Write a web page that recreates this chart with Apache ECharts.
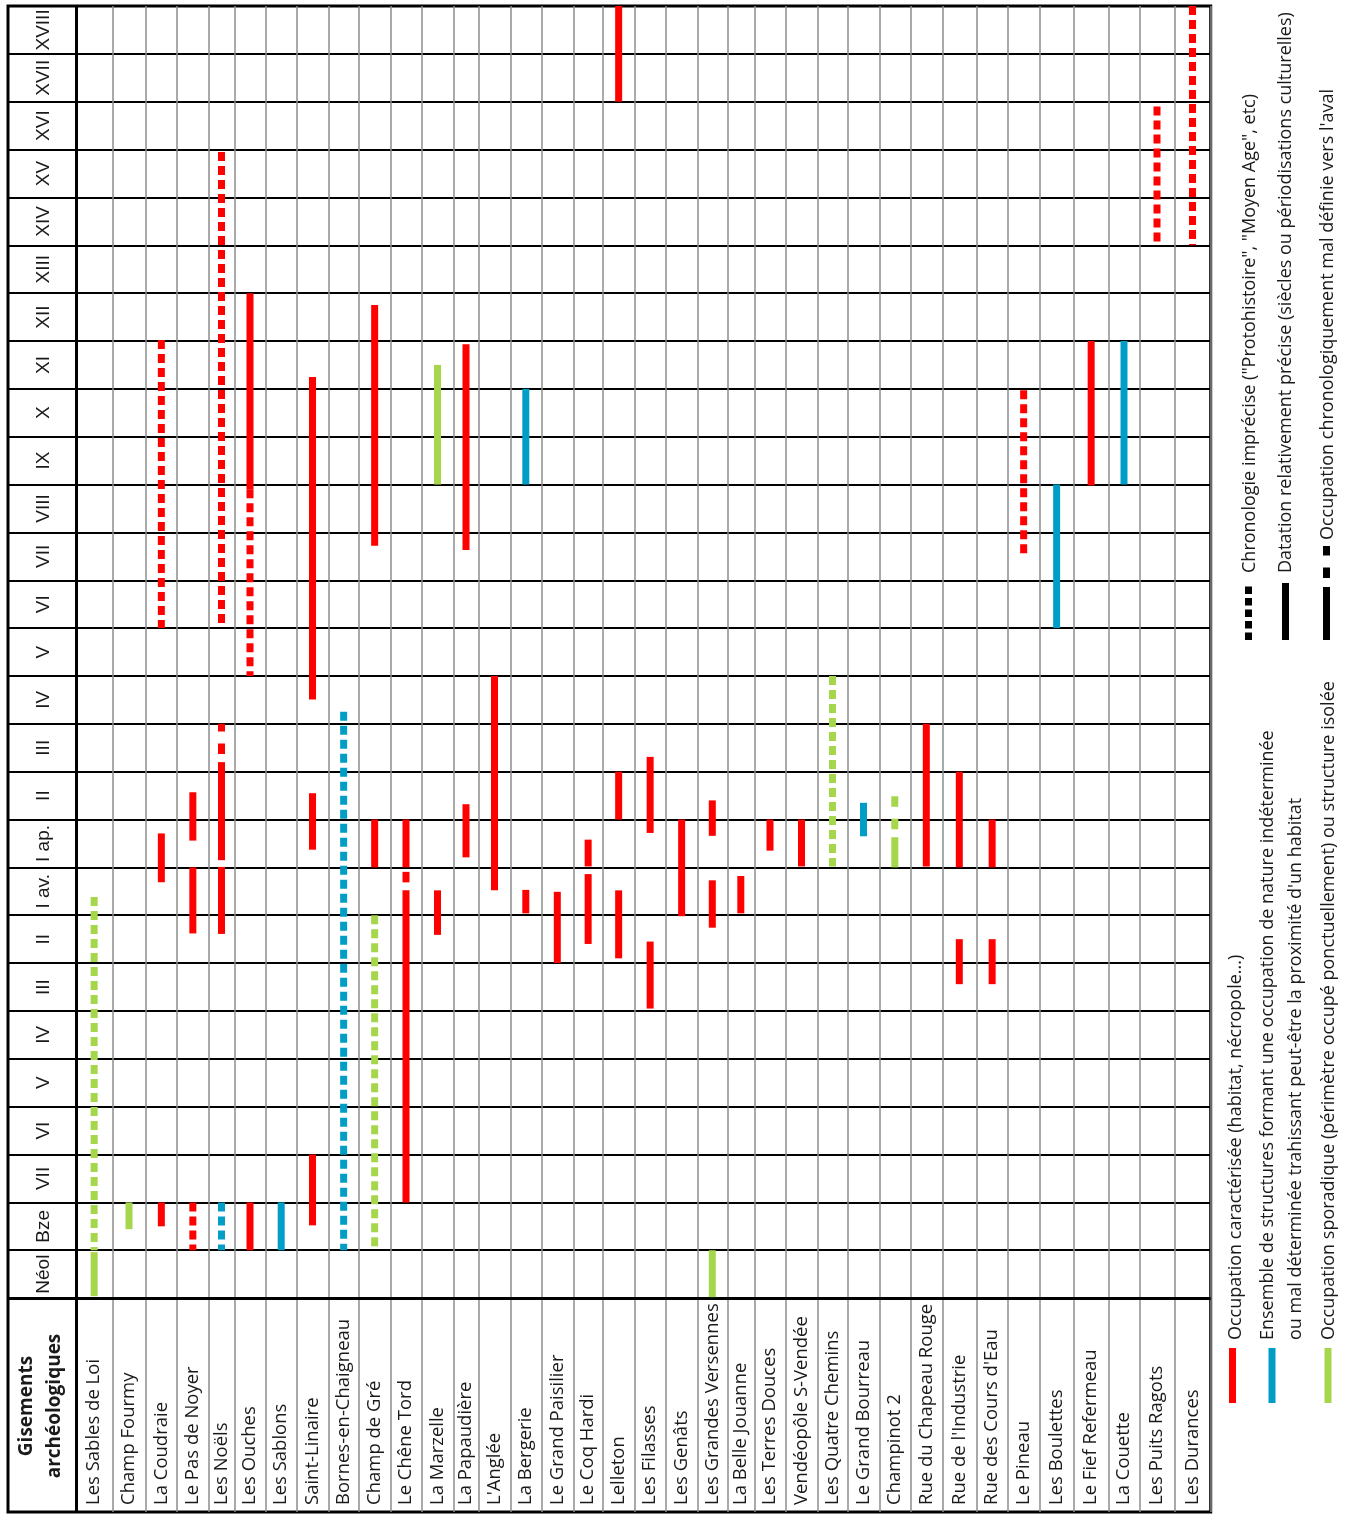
<!DOCTYPE html>
<html>
<head>
<meta charset="utf-8">
<title>Gisements archéologiques – chronologie des occupations</title>
<script src="https://cdn.jsdelivr.net/npm/echarts@6/dist/echarts.min.js"></script>
<style>
  html, body { margin: 0; padding: 0; background: #ffffff; }
  #chart { width: 1345px; height: 1515px; }
</style>
</head>
<body>
<div id="chart"></div>
<script>
// ---------------------------------------------------------------------------
// Data
// ---------------------------------------------------------------------------

// Chronological rows, from the oldest (bottom) to the most recent (top).
const periods = ['Néol', 'Bze', 'VII', 'VI', 'V', 'IV', 'III', 'II', 'I av.',
  'I ap.', 'II', 'III', 'IV', 'V', 'VI', 'VII', 'VIII', 'IX', 'X', 'XI', 'XII',
  'XIII', 'XIV', 'XV', 'XVI', 'XVII', 'XVIII'];

// Archaeological sites, one column each.
const sites = ['Les Sables de Loi', 'Champ Fourmy', 'La Coudraie', 'Le Pas de Noyer',
  'Les Noëls', 'Les Ouches', 'Les Sablons', 'Saint-Linaire', 'Bornes-en-Chaigneau',
  'Champ de Gré', 'Le Chêne Tord', 'La Marzelle', 'La Papaudière', "L'Anglée",
  'La Bergerie', 'Le Grand Paisilier', 'Le Coq Hardi', 'Lelleton', 'Les Filasses',
  'Les Genâts', 'Les Grandes Versennes', 'La Belle Jouanne', 'Les Terres Douces',
  'Vendéopôle S-Vendée', 'Les Quatre Chemins', 'Le Grand Bourreau', 'Champinot 2',
  'Rue du Chapeau Rouge', "Rue de l'Industrie", "Rue des Cours d'Eau", 'Le Pineau',
  'Les Boulettes', 'Le Fief Refermeau', 'La Couette', 'Les Puits Ragots', 'Les Durances'];

// Occupation spans: [site, from, to], in period rows (0 = start of the Neolithic row,
// 27 = end of the XVIIIth century row).

// Occupation caractérisée (habitat, nécropole...) – red
const redSolid = [
  ['La Coudraie', 1.5, 2.0], ['La Coudraie', 8.69, 9.71],
  ['Le Pas de Noyer', 7.62, 9.0], ['Le Pas de Noyer', 9.56, 10.57],
  ['Les Noëls', 7.61, 9.01], ['Les Noëls', 9.15, 11.2],
  ['Les Ouches', 1.0, 2.0], ['Les Ouches', 16.9, 21.0],
  ['Saint-Linaire', 1.52, 3.0], ['Saint-Linaire', 9.37, 10.55], ['Saint-Linaire', 12.51, 19.25],
  ['Champ de Gré', 9.0, 10.0], ['Champ de Gré', 15.72, 20.75],
  ['Le Chêne Tord', 2.0, 8.52], ['Le Chêne Tord', 9.0, 10.0],
  ['La Marzelle', 7.59, 8.52],
  ['La Papaudière', 9.21, 10.32], ['La Papaudière', 15.63, 19.93],
  ["L'Anglée", 8.52, 13.0],
  ['La Bergerie', 8.04, 8.53],
  ['Le Grand Paisilier', 7.0, 8.49],
  ['Le Coq Hardi', 7.4, 8.86], ['Le Coq Hardi', 9.02, 9.58],
  ['Lelleton', 7.1, 8.52], ['Lelleton', 10.0, 11.0], ['Lelleton', 25.0, 27.0],
  ['Les Filasses', 6.05, 7.45], ['Les Filasses', 9.72, 11.31],
  ['Les Genâts', 7.98, 10.0],
  ['Les Grandes Versennes', 7.74, 8.73], ['Les Grandes Versennes', 9.66, 10.4],
  ['La Belle Jouanne', 8.04, 8.82],
  ['Les Terres Douces', 9.35, 10.0],
  ['Vendéopôle S-Vendée', 9.02, 10.0],
  ['Rue du Chapeau Rouge', 9.02, 12.0],
  ["Rue de l'Industrie", 6.56, 7.5], ["Rue de l'Industrie", 9.0, 11.0],
  ["Rue des Cours d'Eau", 6.56, 7.5], ["Rue des Cours d'Eau", 9.0, 10.0],
  ['Le Fief Refermeau', 16.98, 20.0]
];
const redDashed = [
  ['La Coudraie', 14.0, 20.02],
  ['Le Pas de Noyer', 1.0, 2.0],
  ['Les Noëls', 14.05, 23.95],
  ['Les Ouches', 13.0, 16.9],
  ['Le Pineau', 15.5, 18.97],
  ['Les Puits Ragots', 22.0, 24.9],
  ['Les Durances', 22.0, 27.0]
];
const redLoose = [
  ['Les Noëls', 11.2, 12.0],
  ['Le Chêne Tord', 8.52, 9.0]
];

// Ensemble de structures (nature indéterminée) – blue
const blueSolid = [
  ['Les Sablons', 1.0, 2.0],
  ['La Bergerie', 17.0, 19.0],
  ['Le Grand Bourreau', 9.65, 10.35],
  ['Les Boulettes', 14.0, 17.0],
  ['La Couette', 17.0, 20.0]
];
const blueDashed = [
  ['Les Noëls', 1.0, 2.0],
  ['Bornes-en-Chaigneau', 1.0, 12.25]
];

// Occupation sporadique – green
const greenSolid = [
  ['Les Sables de Loi', 0.04, 0.96],
  ['Champ Fourmy', 1.44, 2.0],
  ['La Marzelle', 17.0, 19.5],
  ['Les Grandes Versennes', 0.02, 1.0],
  ['Champinot 2', 9.0, 9.63]
];
const greenDashed = [
  ['Les Sables de Loi', 1.0, 8.38],
  ['Champ de Gré', 1.0, 8.0],
  ['Les Quatre Chemins', 9.02, 13.0]
];
const greenLoose = [
  ['Champinot 2', 9.63, 10.53]
];

// ---------------------------------------------------------------------------
// Layout (table geometry, not data)
// ---------------------------------------------------------------------------
const HEADER_W = 68;          // width of the period column
const COLUMN_W = [36.3, 33.4, 31.3, 31.7, 25.6, 31.4, 31.0, 31.6, 30.7, 31.3, 31.4,
  31.6, 25.4, 31.6, 31.0, 32.0, 29.7, 31.3, 31.7, 31.3, 30.0, 27.0, 31.4, 31.6, 30.4,
  31.6, 31.0, 32.0, 34.0, 31.7, 31.3, 34.7, 34.3, 31.4, 34.6, 36.4];
const LABEL_ROWS = 4.47;      // height of the site-name band, in period rows
const BAR_W = 7;

const COLORS = { red: '#ff0000', blue: '#009ec6', green: '#a6d64c' };
const DASH = [9, 5];
const LOOSE_DASH = [10.5, 12];
const LOOSE_GAP_FIRST = 8;

const edges = [HEADER_W];
COLUMN_W.forEach(w => edges.push(edges[edges.length - 1] + w));
const centers = COLUMN_W.map((w, i) => edges[i] + w / 2);
const X_MAX = edges[edges.length - 1];

const rowEdges = periods.map((p, i) => i).concat([periods.length]);
const rowCenters = periods.map((p, i) => i + 0.5);

function nearestSite(v) {
  let best = 0, d = Infinity;
  centers.forEach((c, i) => { const dd = Math.abs(c - v); if (dd < d) { d = dd; best = i; } });
  return sites[best];
}

// One custom series per colour / line style.
function spanSeries(name, rows, color, style) {
  return {
    type: 'custom',
    name: name,
    coordinateSystem: 'cartesian2d',
    z: 5,
    silent: true,
    data: rows.map(r => [centers[sites.indexOf(r[0])], r[1], r[2]]),
    encode: { x: 0, y: [1, 2] },
    renderItem: function (params, api) {
      const x = api.value(0);
      const top = api.coord([x, api.value(2)]);
      const bottom = api.coord([x, api.value(1)]);
      if (style === 'solid') {
        return {
          type: 'rect',
          shape: { x: top[0] - BAR_W / 2, y: top[1], width: BAR_W, height: bottom[1] - top[1] },
          style: { fill: color }
        };
      }
      if (style === 'dashed') {
        return {
          type: 'line',
          shape: { x1: top[0], y1: top[1], x2: bottom[0], y2: bottom[1] },
          style: { stroke: color, lineWidth: BAR_W, lineDash: DASH, lineCap: 'butt', fill: null }
        };
      }
      // loose dashes, drawn upward from the end of the solid part, starting with a gap
      const period = LOOSE_DASH[0] + LOOSE_DASH[1];
      return {
        type: 'line',
        shape: { x1: bottom[0], y1: bottom[1], x2: top[0], y2: top[1] },
        style: {
          stroke: color, lineWidth: BAR_W, lineDash: LOOSE_DASH,
          lineDashOffset: period - LOOSE_GAP_FIRST, lineCap: 'butt', fill: null
        }
      };
    }
  };
}

// ---------------------------------------------------------------------------
// Legend (drawn as rotated text next to the table)
// ---------------------------------------------------------------------------
const LEGEND_FONT = '18px "Open Sans", sans-serif';
const TEXT_COLOR = '#1a1a1a';

function vText(x, y, text, font) {
  return {
    type: 'text', x: x, y: y, rotation: Math.PI / 2, silent: true,
    style: { text: text, font: font || LEGEND_FONT, fill: TEXT_COLOR,
      textAlign: 'left', textVerticalAlign: 'middle' }
  };
}
function vBar(x, y1, y2, color) {
  return { type: 'rect', silent: true,
    shape: { x: x - BAR_W / 2, y: y1, width: BAR_W, height: y2 - y1 }, style: { fill: color } };
}
function vDash(x, yBottom, yTop, color, dash, offset) {
  return { type: 'line', silent: true,
    shape: { x1: x, y1: yBottom, x2: x, y2: yTop },
    style: { stroke: color, lineWidth: BAR_W, lineDash: dash, lineDashOffset: offset || 0, lineCap: 'butt' } };
}

const legendGraphics = [
  // line styles
  vDash(1248.5, 640, 583, '#000', [7.5, 4]),
  vText(1249.5, 573, 'Chronologie imprécise ("Protohistoire", "Moyen Age", etc)'),
  vBar(1285.5, 583, 640, '#000'),
  vText(1285.5, 573, 'Datation relativement précise (siècles ou périodisations culturelles)'),
  vBar(1326.5, 587, 640, '#000'),
  vDash(1326.5, 587, 546, '#000', LOOSE_DASH, LOOSE_DASH[0] + LOOSE_DASH[1] - 9),
  vText(1327.5, 540, "Occupation chronologiquement mal définie vers l'aval"),
  // colours
  vBar(1232.5, 1348, 1403, COLORS.red),
  vText(1236, 1340, 'Occupation caractérisée (habitat, nécropole...)'),
  vBar(1272, 1348, 1403, COLORS.blue),
  vText(1268, 1340, 'Ensemble de structures formant une occupation de nature indéterminée'),
  vText(1296, 1340, "ou mal déterminée trahissant peut-être la proximité d'un habitat"),
  vBar(1328, 1348, 1403, COLORS.green),
  vText(1329, 1340, 'Occupation sporadique (périmètre occupé ponctuellement) ou structure isolée'),
  // corner heading
  {
    type: 'text', x: 41, y: 1406, rotation: Math.PI / 2, silent: true,
    style: { text: 'Gisements\narchéologiques', font: 'bold 19px "Open Sans", sans-serif',
      fill: TEXT_COLOR, textAlign: 'center', textVerticalAlign: 'middle', lineHeight: 28 }
  }
];

// ---------------------------------------------------------------------------
// Chart
// ---------------------------------------------------------------------------
const chart = echarts.init(document.getElementById('chart'), null, { renderer: 'canvas' });

chart.setOption({
  animation: false,
  backgroundColor: '#ffffff',
  grid: {
    left: 8, top: 6, right: 1345 - 8 - X_MAX, bottom: 3,
    show: true, borderColor: '#000', borderWidth: 3, backgroundColor: '#ffffff'
  },
  xAxis: {
    type: 'value', min: 0, max: X_MAX, position: 'bottom',
    axisLine: { show: false },
    axisTick: { show: false, customValues: edges },
    splitLine: { show: true, lineStyle: { color: '#8c8c8c', width: 1.5 } },
    axisLabel: {
      customValues: centers,
      formatter: v => nearestSite(v),
      rotate: 90, inside: true, margin: 7,
      fontFamily: 'Open Sans', fontSize: 18.5, color: TEXT_COLOR
    }
  },
  yAxis: {
    type: 'value', min: -LABEL_ROWS, max: periods.length,
    axisLine: { show: false },
    axisTick: { show: false, customValues: rowEdges },
    splitLine: { show: true, lineStyle: { color: '#000', width: 2 } },
    axisLabel: {
      customValues: rowCenters,
      formatter: v => periods[Math.floor(v)],
      rotate: 90, inside: true, margin: 26,
      fontFamily: 'Liberation Sans', fontSize: 19, color: TEXT_COLOR
    }
  },
  series: [
    {
      type: 'line', name: 'frame', data: [], silent: true,
      markLine: {
        silent: true, symbol: 'none', label: { show: false }, animation: false,
        lineStyle: { color: '#000', width: 3, type: 'solid' },
        data: [{ yAxis: 0 }, { xAxis: HEADER_W }]
      }
    },
    spanSeries('Occupation caractérisée', redSolid, COLORS.red, 'solid'),
    spanSeries('Occupation caractérisée (imprécise)', redDashed, COLORS.red, 'dashed'),
    spanSeries('Occupation caractérisée (mal définie)', redLoose, COLORS.red, 'loose'),
    spanSeries('Ensemble de structures', blueSolid, COLORS.blue, 'solid'),
    spanSeries('Ensemble de structures (imprécise)', blueDashed, COLORS.blue, 'dashed'),
    spanSeries('Occupation sporadique', greenSolid, COLORS.green, 'solid'),
    spanSeries('Occupation sporadique (imprécise)', greenDashed, COLORS.green, 'dashed'),
    spanSeries('Occupation sporadique (mal définie)', greenLoose, COLORS.green, 'loose')
  ],
  graphic: { elements: legendGraphics }
});
</script>
</body>
</html>
